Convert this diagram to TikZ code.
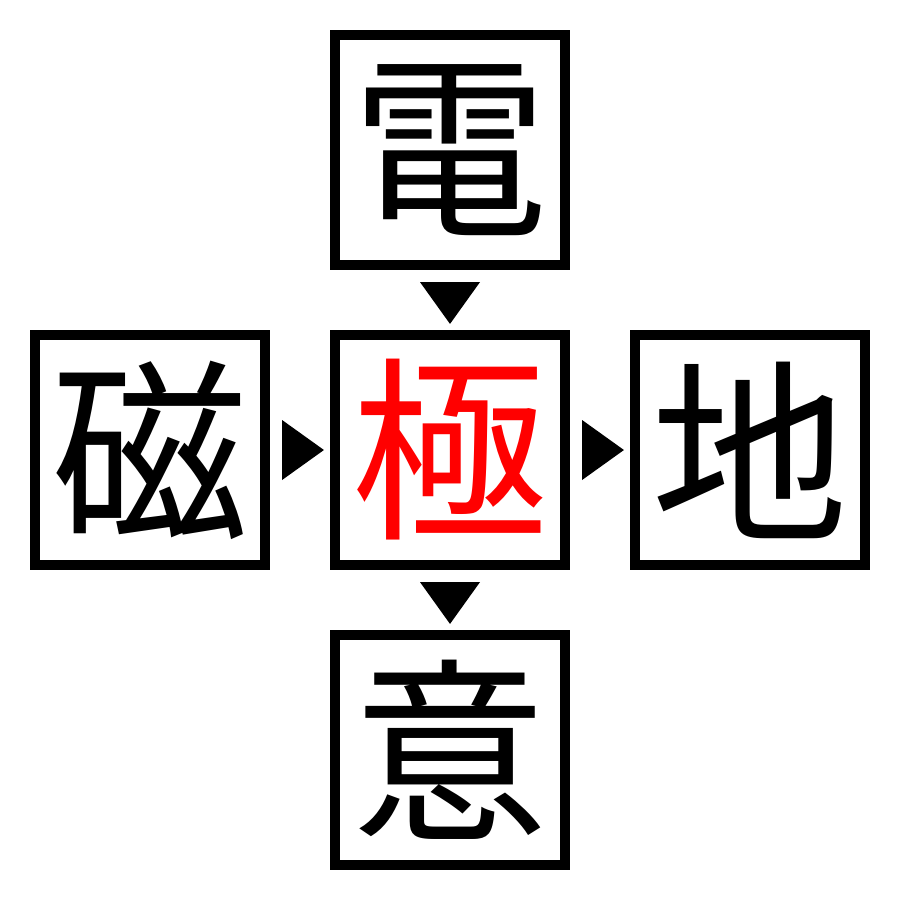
\documentclass[tikz,border=0pt]{standalone}
\usepackage{fontspec}
\newfontfamily\cjk{Noto Sans CJK JP}
\usetikzlibrary{calc}
\tikzset{
  kbox/.style={draw=black, line width=0.1cm, minimum size=2.3cm, inner sep=0pt,
    font=\cjk\fontsize{56pt}{60pt}\selectfont, text=black},
  tri/.style={fill=black}
}
\begin{document}
\begin{tikzpicture}[x=0.01cm,y=-0.01cm]
\useasboundingbox[fill=white] (0,0) rectangle (900,900);
\node[kbox] (top) at (450,150) {電};
\node[kbox] (left) at (150,450) {磁};
\node[kbox, text=red] (mid) at (450,450) {極};
\node[kbox] (right) at (750,450) {地};
\node[kbox] (bot) at (450,750) {意};
% downward triangles
\fill[tri] ($(top.south)+(-30,12)$) -- ($(top.south)+(30,12)$) -- ($(mid.north)+(0,-6)$) -- cycle;
\fill[tri] ($(mid.south)+(-30,12)$) -- ($(mid.south)+(30,12)$) -- ($(bot.north)+(0,-6)$) -- cycle;
% rightward triangles
\fill[tri] ($(left.east)+(12,-30)$) -- ($(left.east)+(12,30)$) -- ($(mid.west)+(-6,0)$) -- cycle;
\fill[tri] ($(mid.east)+(12,-30)$) -- ($(mid.east)+(12,30)$) -- ($(right.west)+(-6,0)$) -- cycle;
\end{tikzpicture}
\end{document}
